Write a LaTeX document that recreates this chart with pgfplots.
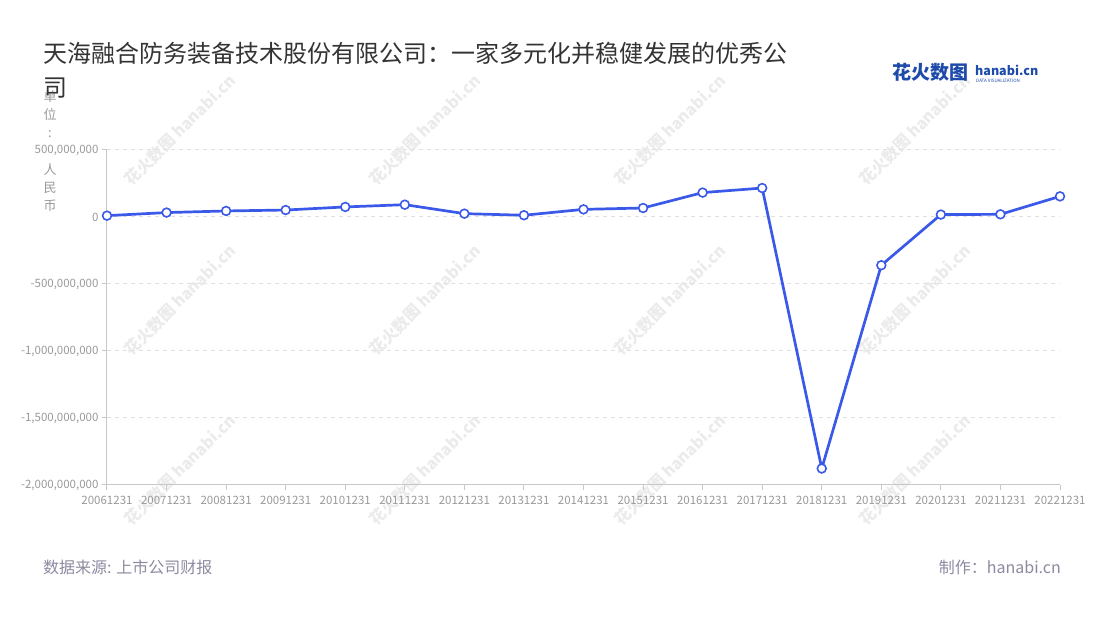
\documentclass[border=0pt]{standalone}
\usepackage{fontspec}
\setmainfont{Noto Sans CJK SC}
\usepackage{pgfplots}
\pgfplotsset{compat=1.18}
\definecolor{lineblue}{RGB}{59,89,232}
\definecolor{tickgray}{RGB}{153,153,153}
\definecolor{axisgray}{RGB}{200,200,200}
\definecolor{gridgray}{RGB}{224,224,224}
\definecolor{titlec}{RGB}{51,51,51}
\definecolor{footc}{RGB}{140,138,160}
\definecolor{logob}{RGB}{30,75,170}
\begin{document}
\begin{tikzpicture}[x=1pt,y=1pt]
\useasboundingbox (0pt,0pt) rectangle (1100pt,620pt);
% watermarks
\foreach \wx in {180,425,670,915}{
  \foreach \wy in {130,300,470}{
    \node[rotate=45, text=black!8, font=\fontsize{16}{16}\selectfont\bfseries] at (\wx pt, 620pt-\wy pt) {花火数图 hanabi.cn};
  }
}
\begin{axis}[
  at={(107pt,135pt)}, anchor=south west,
  width=953pt, height=335pt, scale only axis,
  clip=false,
  xmin=0, xmax=16,
  ymin=-2000000000, ymax=500000000,
  axis lines*=left,
  axis line style={axisgray, line width=1pt},
  tick style={axisgray, line width=1pt},
  major tick length=5pt,
  tick align=outside,
  xtick={0,...,16},
  xticklabels={20061231,20071231,20081231,20091231,20101231,20111231,20121231,20131231,20141231,20151231,20161231,20171231,20181231,20191231,20201231,20211231,20221231},
  ytick={-2000000000,-1500000000,-1000000000,-500000000,0,500000000},
  yticklabels={{-2,000,000,000},{-1,500,000,000},{-1,000,000,000},{-500,000,000},{0},{500,000,000}},
  scaled y ticks=false,
  ymajorgrids,
  major grid style={gridgray, line width=1pt, dash pattern=on 4pt off 4pt},
  ticklabel style={font=\fontsize{11.5}{12}\selectfont, text=tickgray},
  xticklabel style={yshift=-3pt},
]
\addplot[lineblue, line width=2.7pt, mark=*, mark size=4.4pt,
  mark options={fill=white, draw=lineblue, line width=1.6pt}]
coordinates {
(0,10000000)
(1,33000000)
(2,45000000)
(3,52000000)
(4,75000000)
(5,92000000)
(6,25000000)
(7,13000000)
(8,57000000)
(9,67000000)
(10,182000000)
(11,216000000)
(12,-1877000000)
(13,-360000000)
(14,18000000)
(15,20000000)
(16,154000000)
};
\end{axis}
% y unit label
\node[align=center, font=\fontsize{13}{18.3}\selectfont, text=tickgray] at (50pt, 469pt) {单\\位\\:\\\mbox{}\\人\\民\\币};
% title
\node[anchor=west, inner sep=0pt, font=\fontsize{24}{25}\selectfont, text=titlec] at (43pt, 567pt) {天海融合防务装备技术股份有限公司：一家多元化并稳健发展的优秀公};
\node[anchor=west, inner sep=0pt, font=\fontsize{24}{25}\selectfont, text=titlec] at (43pt, 532pt) {司};
% logo
\node[anchor=west, inner sep=0pt, font=\fontsize{19}{20}\selectfont\bfseries, text=logob] at (892pt, 548pt) {花火数图};
\node[anchor=west, inner sep=0pt, font=\fontsize{12.5}{13}\selectfont\bfseries, text=logob] at (975pt, 550pt) {hanabi.cn};
\node[anchor=west, inner sep=0pt, font=\fontsize{4.5}{5}\selectfont, text=logob] at (976pt, 539pt) {DATA VISUALIZATION};
% footer
\node[anchor=west, inner sep=0pt, font=\fontsize{16}{17}\selectfont, text=footc] at (43pt, 53pt) {数据来源: 上市公司财报};
\node[anchor=east, inner sep=0pt, font=\fontsize{16}{17}\selectfont, text=footc] at (1061pt, 53pt) {制作：hanabi.cn};
\end{tikzpicture}
\end{document}
